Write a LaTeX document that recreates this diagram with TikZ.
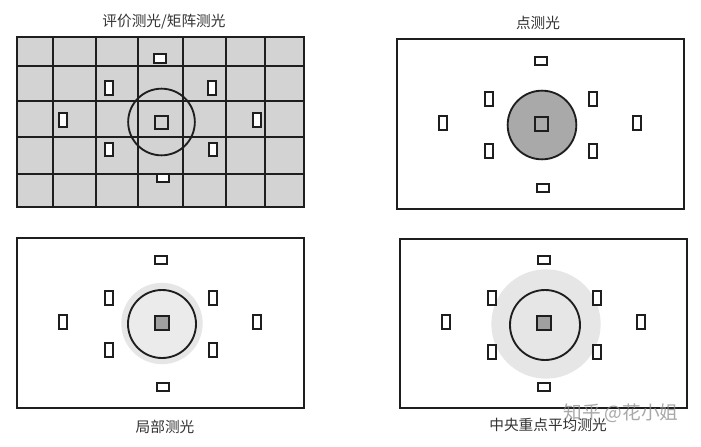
\documentclass[tikz,border=0pt]{standalone}
\usepackage{fontspec}
\newfontfamily\cjk{Noto Sans CJK SC}
\definecolor{gridfill}{HTML}{D3D3D3}
\definecolor{spotfill}{HTML}{A9A9A9}
\definecolor{halofill}{HTML}{E6E6E6}
\definecolor{centerfill}{HTML}{A0A0A0}
\definecolor{ink}{HTML}{1E1E1E}
\begin{document}
\begin{tikzpicture}[x=0.75pt,y=-0.75pt,
  frame/.style={draw=ink, line width=1.6pt},
  gridline/.style={draw=ink, line width=1.5pt},
  afh/.style={draw=ink, fill=white, line width=1.5pt, inner sep=0pt, minimum width=9.5pt, minimum height=6.5pt},
  afv/.style={draw=ink, fill=white, line width=1.5pt, inner sep=0pt, minimum width=6pt, minimum height=10.25pt},
  afc/.style={draw=ink, line width=1.5pt, inner sep=0pt, minimum size=10.25pt},
  ring/.style={circle, draw=ink, line width=1.4pt, inner sep=0pt},
  title/.style={font=\cjk\fontsize{11}{11}\selectfont, text=black!80},
  wmtext/.style={font=\cjk\fontsize{14}{14}\selectfont, text=black!45, opacity=0.75}
]
\useasboundingbox[fill=white] (0,0) rectangle (701,447);

% ---------- Panel 1: evaluative / matrix ----------
\node[title] (t1) at (164,22) {评价测光/矩阵测光};
\fill[gridfill] (17,37) rectangle (304,207);
\foreach \gx in {53,96,138,183,226,265} \draw[gridline] (\gx,37) -- (\gx,207);
\foreach \gy in {66,101,137,174} \draw[gridline] (17,\gy) -- (304,\gy);
\draw[frame] (17,37) rectangle (304,207);
\node[ring, minimum size=50pt] (c1) at (161.5,122) {};
\node[afh] (p1t) at (160,58.5) {};
\node[afv] (p1ul) at (108.5,88) {};
\node[afv] (p1ur) at (212,88) {};
\node[afv] (p1l) at (63,120) {};
\node[afv] (p1r) at (257,120) {};
\node[afv] (p1ll) at (109,149.5) {};
\node[afv] (p1lr) at (212.5,149.5) {};
\node[afh] (p1b) at (163,178) {};
\node[afc, fill=gridfill] (p1c) at (161.5,122.5) {};

% ---------- Panel 2: spot ----------
\node[title] (t2) at (538,23) {点测光};
\node[frame, draw, rectangle, minimum width=215.25pt, minimum height=127.5pt, inner sep=0pt] (f2) at (540.5,124) {};
\node[ring, fill=spotfill, minimum size=51.5pt] (c2) at (542,125) {};
\node[afh] (p2t) at (541,61) {};
\node[afv] (p2ul) at (489,99) {};
\node[afv] (p2ur) at (593,99) {};
\node[afv] (p2l) at (443,123) {};
\node[afv] (p2r) at (637,123) {};
\node[afv] (p2ll) at (489,151) {};
\node[afv] (p2lr) at (593,151) {};
\node[afh] (p2b) at (543,188) {};
\node[afc, fill=spotfill] (p2c) at (541.5,124) {};

% ---------- Panel 3: partial ----------
\node[title] (t3) at (165,427) {局部测光};
\node[frame, draw, rectangle, minimum width=215.25pt, minimum height=127.5pt, inner sep=0pt] (f3) at (160.5,323) {};
\node[circle, fill=halofill, minimum size=61pt, inner sep=0pt] (h3) at (162,323.5) {};
\node[ring, fill=halofill!80, minimum size=51pt] (c3) at (162,324) {};
\node[afh] (p3t) at (161,260) {};
\node[afv] (p3ul) at (109,298) {};
\node[afv] (p3ur) at (213,298) {};
\node[afv] (p3l) at (63,322) {};
\node[afv] (p3r) at (257,322) {};
\node[afv] (p3ll) at (109,350) {};
\node[afv] (p3lr) at (213,350) {};
\node[afh] (p3b) at (163,387) {};
\node[afc, fill=centerfill] (p3c) at (162,323) {};

% ---------- Panel 4: center-weighted ----------
\node[title] (t4) at (548,425) {中央重点平均测光};
\node[frame, draw, rectangle, minimum width=215.25pt, minimum height=126.75pt, inner sep=0pt] (f4) at (543.5,323.5) {};
\node[circle, fill=halofill, minimum size=82pt, inner sep=0pt] (h4) at (546,324) {};
\node[ring, minimum size=52.5pt] (c4) at (545,325) {};
\node[afh] (p4t) at (544,260) {};
\node[afv] (p4ul) at (492,298) {};
\node[afv] (p4ur) at (597,298) {};
\node[afv] (p4l) at (446,322) {};
\node[afv] (p4r) at (641,322) {};
\node[afv] (p4ll) at (492,352) {};
\node[afv] (p4lr) at (597,352) {};
\node[afh] (p4b) at (544,387) {};
\node[afc, fill=centerfill] (p4c) at (544,323) {};

% watermark
\node[wmtext] (wm) at (621,413) {知乎 @花小姐};
\end{tikzpicture}
\end{document}
